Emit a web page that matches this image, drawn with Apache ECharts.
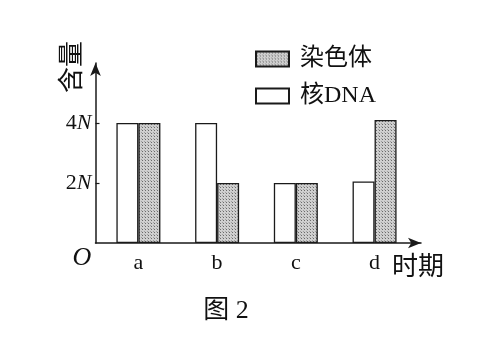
<!DOCTYPE html>
<html><head><meta charset="utf-8">
<script src="https://cdn.jsdelivr.net/npm/echarts@6/dist/echarts.min.js"></script>
<style>html,body{margin:0;padding:0;background:#fff}#c{width:491px;height:350px}</style>
</head><body><div id="c"></div>
<script>
var categories = ['a', 'b', 'c', 'd'];
var dnaValues = [4, 4, 2, 2.05];
var chromValues = [4, 2, 2, 4.1];
var yTickValues = [2, 4];
var seriesNames = ['核DNA', '染色体'];

var cv = document.createElement('canvas');
cv.width = 3; cv.height = 3;
var cx = cv.getContext('2d');
cx.fillStyle = '#cfcfcf'; cx.fillRect(0, 0, 3, 3);
cx.fillStyle = '#6a6a6a'; cx.fillRect(1, 1, 1, 1);
cx.fillStyle = '#a0a0a0'; cx.fillRect(0, 0, 1, 1);

var serif = "'Liberation Serif', 'Noto Sans CJK SC', serif";
var chart = echarts.init(document.getElementById('c'), null, {renderer: 'canvas'});
var toPairs = function (arr) { return arr.map(function (v, i) { return [i, v]; }); };
chart.setOption({
  animation: false,
  backgroundColor: '#fff',
  grid: {left: 95.5, top: 63, right: 70, bottom: 107},
  legend: {
    data: [seriesNames[1], seriesNames[0]],
    orient: 'vertical', left: 250, top: 42, icon: 'rect',
    itemWidth: 33, itemHeight: 15, itemGap: 13,
    textStyle: {fontFamily: serif, fontSize: 24, color: '#111', padding: [0, 0, 0, 6]}
  },
  xAxis: {
    type: 'value', min: -0.545, max: 3.59,
    splitLine: {show: false},
    axisLine: {show: true, onZero: false, lineStyle: {color: '#1a1a1a', width: 1.5}, symbol: ['none', 'arrow'], symbolSize: [8, 13]},
    axisTick: {show: false},
    axisLabel: {customValues: [0, 1, 2, 3], formatter: function (v) { return categories[Math.round(v)]; }, fontFamily: serif, fontSize: 22, color: '#111', margin: 9}
  },
  yAxis: {
    type: 'value', min: 0, max: 6,
    splitLine: {show: false},
    axisLine: {show: true, onZero: false, lineStyle: {color: '#1a1a1a', width: 1.5}, symbol: ['none', 'arrow'], symbolSize: [8, 13]},
    axisTick: {show: true, inside: true, length: 4, customValues: yTickValues, lineStyle: {color: '#1a1a1a', width: 1.2}},
    axisLabel: {customValues: yTickValues, margin: 4, formatter: function (v) { return v + '{n|N}'; },
      fontFamily: serif, fontSize: 22, color: '#111',
      rich: {n: {fontStyle: 'italic', fontFamily: serif, fontSize: 22, color: '#111'}}}
  },
  series: [
    {name: seriesNames[0], type: 'bar', data: toPairs(dnaValues), barWidth: 22, barGap: '0%',
      itemStyle: {color: '#fff', borderColor: '#1a1a1a', borderWidth: 1.3}},
    {name: seriesNames[1], type: 'bar', data: toPairs(chromValues), barWidth: 22, barGap: '0%',
      itemStyle: {color: {image: cv, repeat: 'repeat'}, borderColor: '#1a1a1a', borderWidth: 1.3}}
  ],
  graphic: [
    {type: 'text', x: 70, y: 67, rotation: Math.PI / 2, style: {text: '含量', font: "26px 'Noto Sans CJK SC'", fill: '#111', align: 'center', verticalAlign: 'middle'}},
    {type: 'text', x: 82, y: 258, style: {text: 'O', font: "italic 26px 'Liberation Serif'", fill: '#111', align: 'center', verticalAlign: 'middle'}},
    {type: 'text', x: 392, y: 265, style: {text: '时期', font: "26px 'Noto Sans CJK SC'", fill: '#111', align: 'left', verticalAlign: 'middle'}},
    {type: 'text', x: 226, y: 311, style: {text: '图 2', font: "26px 'Liberation Serif', 'Noto Sans CJK SC'", fill: '#111', align: 'center', verticalAlign: 'middle'}}
  ]
});
</script></body></html>
